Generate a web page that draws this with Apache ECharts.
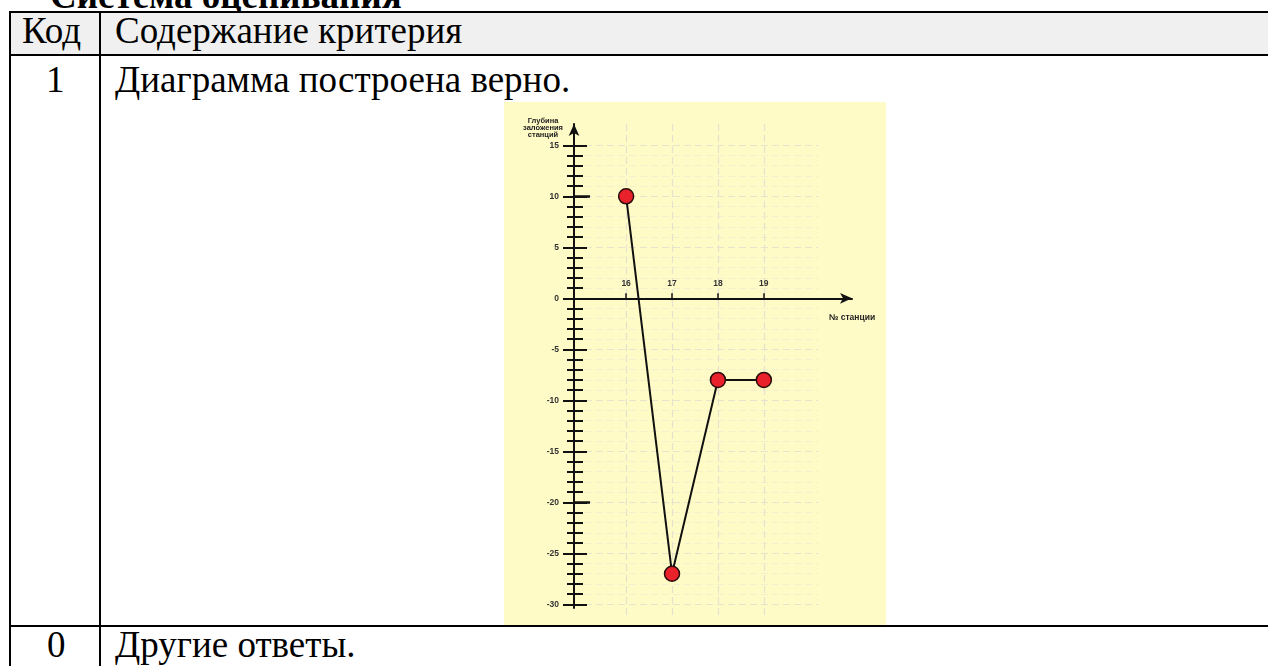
<!DOCTYPE html>
<html>
<head>
<meta charset="utf-8">
<script src="https://cdn.jsdelivr.net/npm/echarts@6/dist/echarts.min.js"></script>
<style>
  body { margin: 0; width: 1268px; height: 666px; overflow: hidden; background: #fff; position: relative;
         font-family: "Liberation Serif", "Times New Roman", serif; color: #000; }
  .t { position: absolute; font-size: 37px; line-height: 37px; white-space: nowrap; }
  .ln { position: absolute; background: #000; z-index: 3; }
  #chart { position: absolute; left: 504px; top: 102px; width: 382px; height: 524px; }
</style>
</head>
<body>
<div class="t" style="left:50px;top:-23px;font-weight:bold">Система оценивания</div>
<div style="position:absolute;left:10px;top:13px;width:1258px;height:41px;background:#f0f0f0"></div>

<div class="ln" style="left:9px;top:11px;width:1259px;height:2px"></div>
<div class="ln" style="left:9px;top:54px;width:1259px;height:2px"></div>
<div class="ln" style="left:9px;top:625px;width:1259px;height:2px"></div>
<div class="ln" style="left:9px;top:11px;width:2px;height:655px"></div>
<div class="ln" style="left:99px;top:11px;width:2px;height:655px"></div>

<div class="t" style="left:22px;top:12px">Код</div>
<div class="t" style="left:115px;top:12px">Содержание критерия</div>
<div class="t" style="left:46px;top:61px">1</div>
<div class="t" style="left:115px;top:61px">Диаграмма построена верно.</div>
<div class="t" style="left:47px;top:626px">0</div>
<div class="t" style="left:115px;top:626px">Другие ответы.</div>

<div id="chart"></div>

<script>
// data
const stations = [16, 17, 18, 19];
const depths = [10, -27, -8, -8];
const yMajorLabels = [-30, -25, -20, -15, -10, -5, 0, 5, 10, 15];
const yLongTicks = [10, -20];
const yMinorTicks = [];
for (let v = -30; v <= 15; v++) if (v % 5 !== 0) yMinorTicks.push(v);

const ink = '#111';
const labelFont = { fontSize: 8.5, fontWeight: 'bold', color: '#333', fontFamily: 'Liberation Sans' };

// axis ranges (main plot area)
const xMin = 14.865, xMax = 20.92;
const yMin = -30.36, yMax = 17.09;
const mainGrid = { left: 70, right: 34, top: 22, bottom: 18 };
// the station axis sits on the zero line
const xAxisGrid = { left: 70, right: 34, top: 22, bottom: 327.7 };
// paper grid behind the chart
const paperGrid = { left: 70, right: 68, top: 22, bottom: 9 };
const pxMin = 14.865, pxMax = 20.18;
const pyMin = -31.25, pyMax = 17.09;

const hiddenX = (gi) => ({ type: 'value', gridIndex: gi, min: xMin, max: xMax, show: false });
const hiddenY = (gi) => ({ type: 'value', gridIndex: gi, min: yMin, max: yMax, show: false });
const tickY = (gi, vals, inside, len, w) => ({
  type: 'value', gridIndex: gi, min: yMin, max: yMax,
  axisLine: { show: false },
  axisTick: { show: true, customValues: vals, inside: inside, length: len, lineStyle: { color: ink, width: w } },
  axisLabel: { show: false },
  splitLine: { show: false }
});

const chart = echarts.init(document.getElementById('chart'));
chart.setOption({
  animation: false,
  backgroundColor: '#fefbc7',
  title: [
    { text: 'Глубина\nзаложения\nстанций', left: 34, top: 10, textAlign: 'center',
      textStyle: { fontSize: 7.5, fontWeight: 'bold', lineHeight: 7, color: '#222', fontFamily: 'Liberation Sans' } },
    { text: '№ станции', left: 343, top: 206, textAlign: 'center',
      textStyle: { fontSize: 8.5, fontWeight: 'bold', color: '#222', fontFamily: 'Liberation Sans' } }
  ],
  grid: [
    mainGrid, mainGrid, mainGrid, mainGrid, mainGrid, paperGrid, xAxisGrid
  ],
  xAxis: [
    hiddenX(0), hiddenX(1), hiddenX(2), hiddenX(3), hiddenX(4),
    {
      type: 'value', gridIndex: 5, min: pxMin, max: pxMax,
      axisLine: { show: false }, axisLabel: { show: false },
      axisTick: { show: false, customValues: stations },
      splitLine: { show: true, lineStyle: { color: '#e4e1cc', width: 1.2, type: [7, 4] } }
    },
    {
      type: 'value', gridIndex: 6, min: xMin, max: xMax, position: 'bottom',
      axisLine: { show: true, onZero: false, lineStyle: { color: ink, width: 2 },
                  symbol: ['none', 'arrow'], symbolSize: [8, 12] },
      axisTick: { show: true, customValues: stations, inside: true, length: 5, lineStyle: { color: ink, width: 1.5 } },
      axisLabel: Object.assign({ customValues: stations, inside: true, margin: 10 }, labelFont),
      splitLine: { show: false }
    }
  ],
  yAxis: [
    {
      type: 'value', gridIndex: 0, min: yMin, max: yMax,
      axisLine: { show: true, onZero: false, lineStyle: { color: ink, width: 2 },
                  symbol: ['none', 'arrow'], symbolSize: [8, 12] },
      axisTick: { show: true, customValues: yMajorLabels, length: 11, lineStyle: { color: ink, width: 2 } },
      axisLabel: Object.assign({ customValues: yMajorLabels, margin: 15 }, labelFont),
      splitLine: { show: false }
    },
    tickY(1, yMajorLabels, true, 13, 2),
    tickY(2, yMinorTicks, false, 7, 2),
    tickY(3, yMinorTicks, true, 9, 2),
    tickY(4, yLongTicks, true, 16, 2.5),
    {
      type: 'value', gridIndex: 5, min: pyMin, max: pyMax,
      axisLine: { show: false }, axisLabel: { show: false },
      axisTick: { show: false, customValues: yMinorTicks },
      splitLine: { show: true, lineStyle: { color: '#f4f0cd', width: 1, type: [7, 4] } }
    },
    {
      type: 'value', gridIndex: 5, min: pyMin, max: pyMax,
      axisLine: { show: false }, axisLabel: { show: false },
      axisTick: { show: false, customValues: yMajorLabels },
      splitLine: { show: true, lineStyle: { color: '#e6e3ce', width: 1.2, type: [7, 4] } }
    },
    hiddenY(6)
  ],
  series: [
    {
      type: 'line', xAxisIndex: 0, yAxisIndex: 0, z: 5,
      data: stations.map((s, i) => [s, depths[i]]),
      symbol: 'circle', symbolSize: 15,
      itemStyle: { color: '#e8212b', borderColor: '#2b0b0b', borderWidth: 1.5 },
      lineStyle: { color: ink, width: 2 }
    }
  ]
});
</script>
</body>
</html>
